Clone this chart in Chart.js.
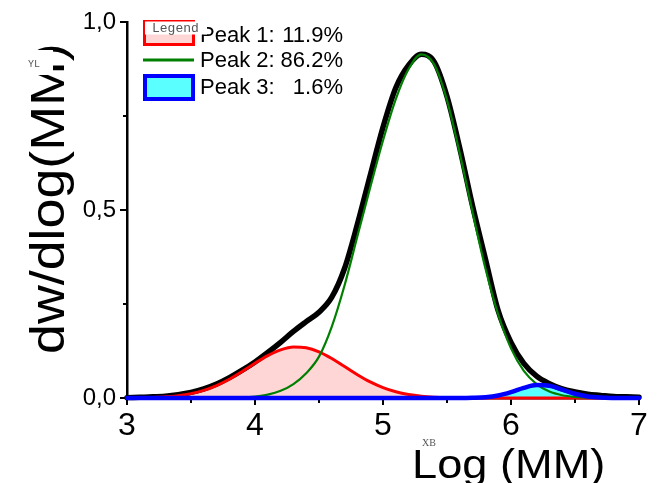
<!DOCTYPE html>
<html>
<head>
<meta charset="utf-8">
<script src="https://cdn.jsdelivr.net/npm/chart.js@4/dist/chart.umd.min.js"></script>
<style>
  html, body { margin: 0; padding: 0; background: #fff; }
  #wrap { width: 658px; height: 483px; }
</style>
</head>
<body>
<div id="wrap"><canvas id="c" width="658" height="483"></canvas></div>
<script>
// Molar-mass distribution and its three fitted peaks (x = log MM)
const logMM = [3.0,3.1,3.2,3.3,3.4,3.5,3.6,3.7,3.8,3.9,
               4.0,4.1,4.2,4.3,4.4,4.5,4.6,4.7,4.8,4.9,
               5.0,5.1,5.2,5.3,5.4,5.5,5.6,5.7,5.8,5.9,
               6.0,6.1,6.2,6.3,6.4,6.5,6.6,6.7,6.8,6.9,7.0];

const totalCurve = [0.001,0.002,0.003,0.005,0.009,0.015,0.024,0.037,0.054,0.074,
                    0.096,0.121,0.148,0.177,0.203,0.228,0.268,0.345,0.462,0.592,
                    0.720,0.825,0.885,0.914,0.894,0.802,0.664,0.510,0.370,0.232,
                    0.148,0.092,0.058,0.038,0.024,0.016,0.010,0.007,0.004,0.003,0.002];

const peak1 = [0.0003,0.0006,0.0015,0.0031,0.0063,0.0117,0.0204,0.0332,0.050,0.0705,
               0.0924,0.1127,0.128,0.1356,0.1336,0.1227,0.105,0.0836,0.062,0.0428,
               0.0276,0.0165,0.0092,0.0048,0.0023,0.001,0.0004,0.0002,0,0,
               0,0,0,0,0,0,0,0,0,0,0];

const peak2 = [0,0,0,0,0,0,0,0,0.0005,0.0015,
               0.004,0.009,0.019,0.037,0.066,0.11,0.19,0.30,0.43,0.56,
               0.685,0.795,0.875,0.914,0.887,0.792,0.650,0.494,0.345,0.222,
               0.132,0.072,0.037,0.017,0.0072,0.0028,0.001,0.0003,0,0,0];

const peak3 = [0,0,0,0,0,0,0,0,0,0,
               0,0,0,0,0,0,0,0,0,0,
               0,0,0,0,0,0,0,0.0005,0.002,0.0065,
               0.0155,0.027,0.0345,0.0325,0.0224,0.0114,0.0042,0.0012,0.0002,0,0];

const peakLabels = ['Peak 1:', 'Peak 2:', 'Peak 3:'];
const peakShares = ['11.9%', '86.2%', '1.6%'];

const xTickStep = 1;
const yTickStep = 0.5;

const FONT = '"Liberation Sans", Arial, sans-serif';
const MONO = '"Liberation Mono", "Courier New", monospace';
const PINK = 'rgb(255,214,214)';
const CYAN = 'rgb(90,255,255)';

const toPoints = ys => logMM.map((x, i) => ({ x: x, y: ys[i] }));

// Short minor ticks halfway between the labelled ones
const minorTicks = {
  id: 'minorTicks',
  beforeDatasetsDraw(chart) {
    const { ctx, chartArea, scales } = chart;
    ctx.save();
    ctx.strokeStyle = '#000';
    ctx.lineWidth = 2;
    for (let v = scales.x.min + xTickStep / 2; v < scales.x.max; v += xTickStep) {
      const px = scales.x.getPixelForValue(v);
      ctx.beginPath();
      ctx.moveTo(px, chartArea.bottom);
      ctx.lineTo(px, chartArea.bottom + 5);
      ctx.stroke();
    }
    for (let v = scales.y.min + yTickStep / 2; v < scales.y.max; v += yTickStep) {
      const py = scales.y.getPixelForValue(v);
      ctx.beginPath();
      ctx.moveTo(chartArea.left, py);
      ctx.lineTo(chartArea.left - 4, py);
      ctx.stroke();
    }
    ctx.restore();
  }
};

// Axis titles, the in-plot legend and the small placeholder tags
const annotations = {
  id: 'annotations',
  afterDraw(chart) {
    const ctx = chart.ctx;
    const ds = chart.data.datasets;
    ctx.save();

    // y title, rotated
    ctx.save();
    ctx.translate(64, 354);
    ctx.rotate(-Math.PI / 2);
    ctx.scale(1.12, 1);
    ctx.fillStyle = '#000';
    ctx.font = '48px ' + FONT;
    ctx.textAlign = 'left';
    ctx.textBaseline = 'alphabetic';
    ctx.fillText('dw/dlog(MM)', 0, 0);
    ctx.restore();

    // x title
    ctx.save();
    ctx.translate(412, 478);
    ctx.scale(1.13, 1);
    ctx.fillStyle = '#000';
    ctx.font = '40px ' + FONT;
    ctx.textAlign = 'left';
    ctx.textBaseline = 'alphabetic';
    ctx.fillText('Log (MM)', 0, 0);
    ctx.restore();

    // small tags
    ctx.fillStyle = '#fff';
    ctx.fillRect(22, 50, 31, 25);
    ctx.fillStyle = '#555';
    ctx.font = '10px ' + MONO;
    ctx.textAlign = 'left';
    ctx.textBaseline = 'alphabetic';
    ctx.fillText('YL', 28, 67);
    ctx.font = '10px "Liberation Serif", serif';
    ctx.fillText('XB', 422, 446);

    // legend swatches
    const sx = 145, sw = 48;
    ctx.fillStyle = ds[1].backgroundColor;
    ctx.fillRect(sx, 22, sw, 22);
    ctx.strokeStyle = ds[1].borderColor;
    ctx.lineWidth = 3;
    ctx.strokeRect(sx - 0.5, 21.5, sw + 1, 23);

    ctx.strokeStyle = ds[2].borderColor;
    ctx.lineWidth = 3;
    ctx.beginPath();
    ctx.moveTo(143, 60);
    ctx.lineTo(194, 60);
    ctx.stroke();

    ctx.fillStyle = ds[3].backgroundColor;
    ctx.fillRect(sx, 76, sw, 23);
    ctx.strokeStyle = ds[3].borderColor;
    ctx.lineWidth = 4;
    ctx.strokeRect(sx, 76, sw, 23);

    // legend text
    ctx.fillStyle = '#000';
    ctx.font = '22px ' + FONT;
    const baselines = [42, 67, 94];
    peakLabels.forEach((lbl, i) => {
      ctx.textAlign = 'left';
      ctx.fillText(lbl, 200, baselines[i]);
      ctx.textAlign = 'right';
      ctx.fillText(peakShares[i], 343, baselines[i]);
    });

    // legend tag box on top
    ctx.fillStyle = '#fff';
    ctx.fillRect(145, 21.5, 62, 13);
    ctx.fillStyle = '#555';
    ctx.font = '13px ' + MONO;
    ctx.textAlign = 'left';
    ctx.fillText('Legend', 152, 31.5);

    ctx.restore();
  }
};

new Chart(document.getElementById('c'), {
  type: 'line',
  data: {
    datasets: [
      { label: 'Total', data: toPoints(totalCurve), borderColor: '#000', borderWidth: 5.5,
        fill: false, order: 4 },
      { label: 'Peak 1', data: toPoints(peak1), borderColor: '#ff0000', borderWidth: 3,
        backgroundColor: PINK, fill: 'origin', order: 3 },
      { label: 'Peak 2', data: toPoints(peak2), borderColor: '#008000', borderWidth: 2.2,
        fill: false, order: 2 },
      { label: 'Peak 3', data: toPoints(peak3), borderColor: '#0000ff', borderWidth: 4.5,
        backgroundColor: CYAN, fill: 'origin', order: 1 }
    ]
  },
  options: {
    responsive: false,
    animation: false,
    devicePixelRatio: 1,
    layout: { padding: { top: 22, right: 19, left: 0, bottom: 0 } },
    elements: {
      point: { radius: 0, hoverRadius: 0 },
      line: { cubicInterpolationMode: 'monotone', borderCapStyle: 'round', borderJoinStyle: 'round' }
    },
    datasets: { line: { clip: false } },
    plugins: {
      legend: { display: false },
      tooltip: { enabled: false },
      filler: { propagate: false, drawTime: 'beforeDatasetsDraw' }
    },
    scales: {
      x: {
        type: 'linear', min: 3, max: 7,
        afterFit(scale) { scale.height = 85; },
        ticks: { stepSize: xTickStep, color: '#000', padding: 2,
                 font: { family: FONT, size: 32 } },
        grid: { drawOnChartArea: false, drawTicks: true, tickLength: 7, color: '#000', lineWidth: 2 },
        border: { display: true, color: '#000', width: 2.5 }
      },
      y: {
        type: 'linear', min: 0, max: 1,
        afterFit(scale) { scale.width = 127; },
        ticks: { stepSize: yTickStep, color: '#000', padding: 4,
                 font: { family: FONT, size: 24 },
                 callback: v => v.toFixed(1).replace('.', ',') },
        grid: { drawOnChartArea: false, drawTicks: true, tickLength: 7, color: '#000', lineWidth: 2 },
        border: { display: true, color: '#000', width: 2.5 }
      }
    }
  },
  plugins: [minorTicks, annotations]
});
</script>
</body>
</html>
